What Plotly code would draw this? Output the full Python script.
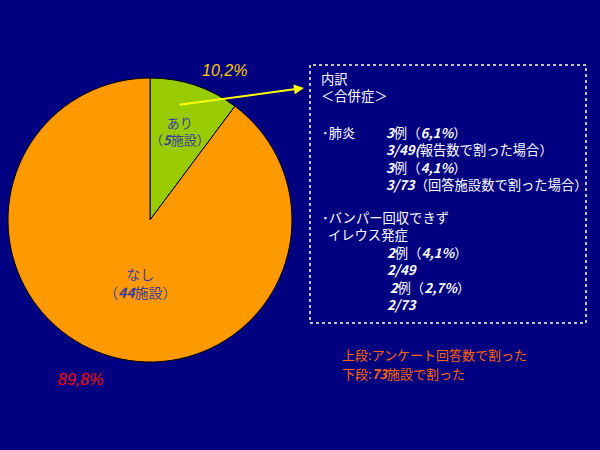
import plotly.graph_objects as go

W, H = 600, 450

labels = ["あり", "なし"]
facilities = [5, 44]
colors = ["#99CC00", "#FF9900"]

NB = "\u00A0"
# (lines, x-left, y-center of block)
box_groups = [
    (["内訳", "＜合併症＞"], 319, 87),
    (["･肺炎"], 320, 132),
    (["<b><i>3</i></b>例（<b><i>6,1%</i></b>）",
      "<b><i>3/49(</i></b>報告数で割った場合）",
      "<b><i>3</i></b>例（<b><i>4,1%</i></b>）",
      "<b><i>3/73</i></b>（回答施設数で割った場合）"], 384, 158),
    (["･バンパー回収できず", NB + NB + "イレウス発症"], 320, 226),
    (["<b><i>2</i></b>例（<b><i>4,1%</i></b>）",
      "<b><i>2/49</i></b>",
      "\u2009<b><i>2</i></b>例（<b><i>2,7%</i></b>）",
      "<b><i>2/73</i></b>"], 385, 278),
]

notes = [
    ("上段:アンケート回答数で割った", 340, 354),
    ("下段:<b><i>73</i></b>施設で割った", 340, 373),
]

FONT = "Noto Sans CJK JP, Arial, sans-serif"

def px(x):
    return x / W

def py(y):
    return 1 - y / H

total = sum(facilities)
pcts = [v / total * 100 for v in facilities]

fig = go.Figure()
fig.add_trace(go.Pie(
    labels=labels, values=facilities, sort=False, direction="clockwise",
    rotation=0, marker=dict(colors=colors, line=dict(color="#000000", width=1)),
    textinfo="none", hoverinfo="label+value", showlegend=False,
    domain=dict(x=[px(8), px(292)], y=[py(362), py(78)]),
))

ann = []
# slice labels
ann.append(dict(x=px(180), y=py(131), text=f"{labels[0]}<br>（<b><i>{facilities[0]}</i></b>施設）",
                showarrow=False, font=dict(color="#3C3C9C", size=13, family=FONT), align="center"))
ann.append(dict(x=px(140), y=py(283), text=f"{labels[1]}<br>（<b><i>{facilities[1]}</i></b>施設）",
                showarrow=False, font=dict(color="#3C3C9C", size=14, family=FONT), align="center"))
# percentages
ann.append(dict(x=px(224), y=py(70), text=f"<i>{pcts[0]:.1f}%</i>".replace(".", ","),
                showarrow=False, font=dict(color="#FFCC00", size=16, family="Arial")))
ann.append(dict(x=px(80), y=py(379), text=f"<i>{pcts[1]:.1f}%</i>".replace(".", ","),
                showarrow=False, font=dict(color="#FF0000", size=16, family="Arial")))
for a in ann:
    a["xanchor"] = "center"
    a["yanchor"] = "middle"
# arrow
ann.append(dict(x=px(304), y=py(88), text="", showarrow=True,
                ax=-126, ay=17, arrowcolor="#FFFF00", arrowwidth=2, arrowhead=2, arrowsize=1))

for lines, x, y in box_groups:
    ann.append(dict(x=px(x), y=py(y), text="<br>".join(lines), showarrow=False,
                    xanchor="left", yanchor="middle", align="left",
                    font=dict(color="#FFFFFF", size=13.3, family=FONT)))
for t, x, y in notes:
    ann.append(dict(x=px(x), y=py(y), text=t, showarrow=False, xanchor="left", yanchor="middle",
                    font=dict(color="#FF6600", size=13, family=FONT)))

for a in ann:
    a.setdefault("xref", "paper")
    a.setdefault("yref", "paper")

fig.update_layout(
    width=W, height=H, margin=dict(l=0, r=0, t=0, b=0),
    paper_bgcolor="#000080", plot_bgcolor="#000080",
    annotations=ann,
    shapes=[dict(type="rect", xref="paper", yref="paper", x0=px(310), x1=px(586), y0=py(323), y1=py(65),
                 line=dict(color="#FFFFCC", width=1.5, dash="dot"))],
)

fig.write_html("out.html")
